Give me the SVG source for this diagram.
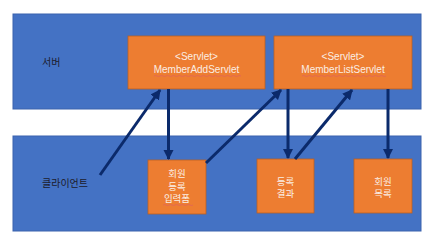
<svg xmlns="http://www.w3.org/2000/svg" width="430" height="240" viewBox="0 0 430 240">
<defs>
<marker id="ah" viewBox="0 0 10 10" refX="9" refY="5" markerWidth="3.4" markerHeight="3.4" orient="auto" markerUnits="strokeWidth">
<path d="M0,0 L10,5 L0,10 z" fill="#0b2a6b"/>
</marker>
<style>
.band{fill:#4472c4;stroke:#3a62ad;stroke-width:1}
.box{fill:#ed7d31;stroke:#b85f24;stroke-width:0.8}
.lbl{font-family:"Noto Sans CJK KR","Noto Sans",sans-serif;font-size:10px;fill:#1c1c2c}
.wt{font-family:"Liberation Sans","Noto Sans CJK KR",sans-serif;font-size:10px;fill:#fbeee4;text-anchor:middle}
.kt{font-family:"Noto Sans CJK KR",sans-serif;font-size:9.5px;fill:#fbeee4;text-anchor:middle}
.sq{fill:none;stroke:#e06060;stroke-width:0.7}
.conn line{stroke:#0b2a6b;stroke-width:3;marker-end:url(#ah)}
</style>
</defs>
<rect width="430" height="240" fill="#ffffff"/>
<g id="server">
<rect class="band" x="13" y="14" width="408" height="95"/>
<text class="lbl" x="42" y="66">서버</text>
</g>
<g id="client">
<rect class="band" x="13" y="136" width="408" height="95"/>
<text class="lbl" x="42" y="187">클라이언트</text>
</g>
<g id="memberAddServlet">
<rect class="box" x="128" y="36" width="137" height="53"/>
<text class="wt" x="196.5" y="60">&lt;Servlet&gt;</text>
<text class="wt" x="196.5" y="73">MemberAddServlet</text>
<path class="sq" d="M154,76 q1.5,-1 3,0 t3,0 t3,0 t3,0 t3,0 t3,0 t3,0 t3,0 t3,0 t3,0 t3,0 t3,0 t3,0 t3,0 t3,0 t3,0 t3,0 t3,0 t3,0 t3,0 t3,0 t3,0 t3,0 t3,0 t3,0 t3,0 t3,0 t3,0 t3,0"/>
</g>
<g id="memberListServlet">
<rect class="box" x="274" y="36" width="138" height="53"/>
<text class="wt" x="343" y="60">&lt;Servlet&gt;</text>
<text class="wt" x="343" y="73">MemberListServlet</text>
<path class="sq" d="M302,76 q1.5,-1 3,0 t3,0 t3,0 t3,0 t3,0 t3,0 t3,0 t3,0 t3,0 t3,0 t3,0 t3,0 t3,0 t3,0 t3,0 t3,0 t3,0 t3,0 t3,0 t3,0 t3,0 t3,0 t3,0 t3,0 t3,0 t3,0 t3,0 t3,0"/>
</g>
<g id="registerForm">
<rect class="box" x="148" y="160" width="58" height="54"/>
<text class="kt" x="177" y="177">회원</text>
<text class="kt" x="177" y="189.5">등록</text>
<text class="kt" x="177" y="202">입력폼</text>
<path class="sq" d="M163,205 q1.5,-1 3,0 t3,0 t3,0 t3,0 t3,0 t3,0 t3,0 t3,0 t3,0 t3,0"/>
</g>
<g id="registerResult">
<rect class="box" x="257" y="159" width="57" height="54"/>
<text class="kt" x="285.5" y="184.5">등록</text>
<text class="kt" x="285.5" y="197">결과</text>
</g>
<g id="memberList">
<rect class="box" x="354" y="159" width="58" height="54"/>
<text class="kt" x="383" y="184.5">회원</text>
<text class="kt" x="383" y="197">목록</text>
</g>
<g class="conn" id="connectors">
<line x1="100" y1="175" x2="160" y2="90"/>
<line x1="168.5" y1="89" x2="168.5" y2="159"/>
<line x1="206" y1="163" x2="281" y2="90"/>
<line x1="288" y1="89" x2="288" y2="158"/>
<line x1="295" y1="159" x2="352" y2="90"/>
<line x1="388" y1="89" x2="388" y2="158"/>
</g>
</svg>
